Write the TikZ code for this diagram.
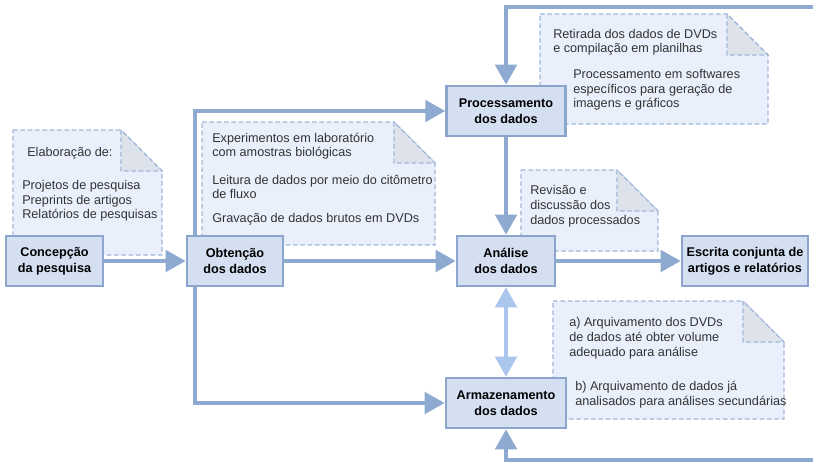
\documentclass[tikz,border=0pt]{standalone}
\usepackage{fontspec}
\setmainfont{Liberation Sans}
\usetikzlibrary{arrows.meta,positioning}

\definecolor{linha}{RGB}{143,170,208}
\definecolor{linhaclara}{RGB}{170,198,236}
\definecolor{caixa}{RGB}{212,223,242}
\definecolor{borda}{RGB}{140,165,205}
\definecolor{papel}{RGB}{233,240,252}
\definecolor{papelborda}{RGB}{160,182,218}
\definecolor{dobra}{RGB}{221,226,235}

\begin{document}
\begin{tikzpicture}[
  x=0.75pt, y=-0.75pt,
  >={Triangle[length=15pt,width=16pt]},
  etapa/.style={draw=borda, fill=caixa, line width=2pt, minimum height=37.5pt,
                inner sep=1pt, align=center,
                font=\fontsize{9.5}{12}\selectfont\bfseries},
  seta/.style={draw=linha, line width=3pt, ->},
  nota/.style={draw=papelborda, fill=papel, line width=0.9pt,
               dash pattern=on 3.5pt off 2pt},
  canto/.style={nota, fill=dobra},
  texto/.style={anchor=base west, align=left, inner sep=0pt, text=black!80,
                font=\fontsize{9.5}{11.2}\selectfont},
]
\useasboundingbox (0,0) rectangle (813,463);

% === Notes (folded paper) ===
\foreach \xa/\ya/\xb/\yb in {13/130/162/255, 202/122/435/245, 540/14/768/124,
                             521/170/658/251, 553/301/784/419} {
  \draw[nota] (\xa,\ya) -- ({\xb-41},\ya) -- (\xb,{\ya+41}) -- (\xb,\yb)
    -- (\xa,\yb) -- cycle;
  \draw[canto] ({\xb-41},\ya) -- ({\xb-41},{\ya+41}) -- (\xb,{\ya+41}) -- cycle;
}

% === Note texts (placed at the baseline of their last line) ===
\node[texto] (elab) at (27,157) {Elaboração de:};
\node[texto] (elabitens) at (22,219)
  {Projetos de pesquisa\\Preprints de artigos\\Relatórios de pesquisas};

\node[texto] (experim) at (212,157)
  {Experimentos em laboratório\\com amostras biológicas};
\node[texto] (leitura) at (212,199)
  {Leitura de dados por meio do citômetro\\de fluxo};
\node[texto] (gravacao) at (212,223) {Gravação de dados brutos em DVDs};

\node[texto] (retirada) at (553,53)
  {Retirada dos dados de DVDs\\e compilação em planilhas};
\node[texto] (softwares) at (573,108)
  {Processamento em softwares\\específicos para geração de\\imagens e gráficos};

\node[texto] (revisao) at (530,224)
  {Revisão e\\discussão dos\\dados processados};

\node[texto] (arqa) at (569,356)
  {a) Arquivamento dos DVDs\\de dados até obter volume\\adequado para análise};
\node[texto] (arqb) at (575,405)
  {b) Arquivamento de dados já\\analisados para análises secundárias};

% === Stages ===
\node[etapa, minimum width=72.75pt] (concepcao) at (54.5,261)
  {Concepção\\da pesquisa};
\node[etapa, minimum width=72pt] (obtencao) at (235,261)
  {Obtenção\\dos dados};
\node[etapa, minimum width=89pt] (processamento) at (506,111)
  {Processamento\\dos dados};
\node[etapa, minimum width=73.5pt] (analise) at (506,261)
  {Análise\\dos dados};
\node[etapa, minimum width=90pt] (armazenamento) at (506,403)
  {Armazenamento\\dos dados};
\node[etapa, minimum width=94.5pt] (escrita) at (745,261)
  {Escrita conjunta de\\artigos e relatórios};

% === Connectors ===
\coordinate (retornoA) at (813,7);
\coordinate (retornoB) at (813,460);

\draw[seta] (concepcao) -- (obtencao);
\draw[seta] (obtencao) -- (analise);
\draw[seta] (analise) -- (escrita);
\draw[seta] (processamento) -- (analise);
\draw[seta] ([xshift=7pt]obtencao.north west) |- (processamento);
\draw[seta] ([xshift=7pt]obtencao.south west) |- (armazenamento);
\draw[seta] (retornoA) -| (processamento);
\draw[seta] (retornoB) -| (armazenamento);
\draw[seta, draw=linhaclara, <->] (analise) -- (armazenamento);

\end{tikzpicture}
\end{document}
